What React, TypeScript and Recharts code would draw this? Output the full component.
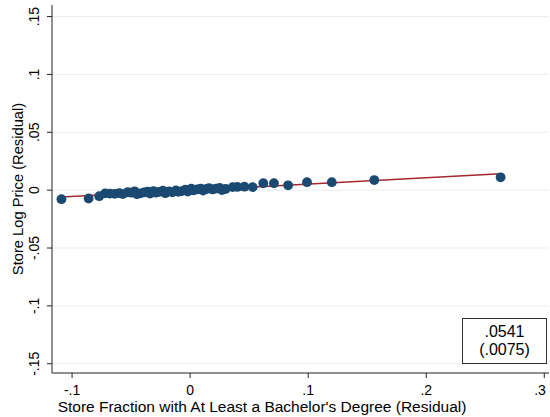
import {
  ScatterChart,
  Scatter,
  XAxis,
  YAxis,
  CartesianGrid,
  ReferenceLine,
} from 'recharts';

// binned residuals
const binX = [
  -0.109, -0.086, -0.077, -0.072, -0.068, -0.064, -0.06, -0.057, -0.053, -0.05,
  -0.047, -0.045, -0.042, -0.039, -0.036, -0.034, -0.031, -0.029, -0.026, -0.023,
  -0.021, -0.018, -0.015, -0.012, -0.01, -0.007, -0.004, -0.002, 0.001, 0.003,
  0.006, 0.009, 0.011, 0.014, 0.016, 0.019, 0.022, 0.025, 0.027, 0.03,
  0.036, 0.04, 0.046, 0.053, 0.062, 0.071, 0.083, 0.099, 0.12, 0.156, 0.263,
];
const binY = [
  -0.0078, -0.0072, -0.0052, -0.0028, -0.003, -0.0032, -0.0025, -0.0034, -0.0018, -0.0022,
  -0.001, -0.0035, -0.0028, -0.002, -0.0012, -0.003, -0.0008, -0.0022, -0.0015, -0.0004,
  -0.0026, -0.001, -0.0018, -0.0002, -0.0014, -0.0008, 0.0004, -0.0012, 0.0012, -0.0002,
  0.0006, 0.0014, -0.0004, 0.001, 0.0018, 0.0006, 0.0014, 0.002, 0.0, 0.001,
  0.0026, 0.0028, 0.003, 0.0026, 0.006, 0.006, 0.0042, 0.0069, 0.0069, 0.0087, 0.0111,
];
const fitX = [-0.109, 0.263];
const fitY = [-0.006, 0.0141];
const xTicks = [-0.1, 0, 0.1, 0.2, 0.3];
const yTicks = [-0.15, -0.1, -0.05, 0, 0.05, 0.1, 0.15];
const coefText = '.0541';
const seText = '(.0075)';

const points = binX.map((x, i) => ({ x, y: binY[i] }));

// stata style: -.1, .05, 0
const fmt = (v: number) => (v === 0 ? '0' : String(v).replace('0.', '.'));

const font = "'Liberation Sans', Arial, sans-serif";

function YTick(props: any) {
  const { x, y, payload } = props;
  return (
    <text
      x={x - 6}
      y={y}
      transform={`rotate(-90, ${x - 6}, ${y})`}
      textAnchor="middle"
      fontSize={14}
      fill="#000"
      fontFamily={font}
    >
      {fmt(payload.value)}
    </text>
  );
}

function XTick(props: any) {
  const { x, y, payload } = props;
  return (
    <text x={x} y={y + 15} textAnchor="middle" fontSize={14} fill="#000" fontFamily={font}>
      {fmt(payload.value)}
    </text>
  );
}

export default function App() {
  return (
    <div style={{ position: 'absolute', left: 0, top: 0, width: 550, height: 417, background: '#fff' }}>
      <ScatterChart width={550} height={417} margin={{ top: 5, right: 1, bottom: 0, left: 0 }}>
        <CartesianGrid vertical={false} stroke="#e6eff1" horizontalValues={yTicks} />
        <XAxis
          type="number"
          dataKey="x"
          domain={[-0.117, 0.304]}
          ticks={xTicks}
          allowDataOverflow
          height={44}
          stroke="#222"
          tickSize={5}
          tick={<XTick />}
          label={{
            content: () => (
              <text x={262} y={412} textAnchor="middle" fontSize={15.5} fill="#000" fontFamily={font}>
                Store Fraction with At Least a Bachelor's Degree (Residual)
              </text>
            ),
          }}
        />
        <YAxis
          type="number"
          dataKey="y"
          domain={[-0.158, 0.16]}
          ticks={yTicks}
          allowDataOverflow
          width={52}
          stroke="#222"
          tickSize={5}
          tick={<YTick />}
          label={{
            content: () => (
              <text
                x={22.5}
                y={189}
                transform="rotate(-90, 22.5, 189)"
                textAnchor="middle"
                fontSize={14.7}
                fill="#000"
                fontFamily={font}
              >
                Store Log Price (Residual)
              </text>
            ),
          }}
        />
        <Scatter data={points} fill="#1a4a72" isAnimationActive={false} shape={(p: any) => <circle cx={p.cx} cy={p.cy} r={4.9} fill="#1a4a72" />} />
        <ReferenceLine
          segment={[
            { x: fitX[0], y: fitY[0] },
            { x: fitX[1], y: fitY[1] },
          ]}
          stroke="#a3282c"
          strokeWidth={1.5}
        />
      </ScatterChart>
      <div
        style={{
          position: 'absolute',
          left: 462,
          top: 318,
          width: 85,
          height: 46,
          border: '1px solid #333',
          background: '#fff',
          fontFamily: font,
          fontSize: 16,
          lineHeight: '18px',
          textAlign: 'center',
          paddingTop: 4,
          boxSizing: 'border-box',
          color: '#000',
        }}
      >
        <div>{coefText}</div>
        <div>{seText}</div>
      </div>
    </div>
  );
}
